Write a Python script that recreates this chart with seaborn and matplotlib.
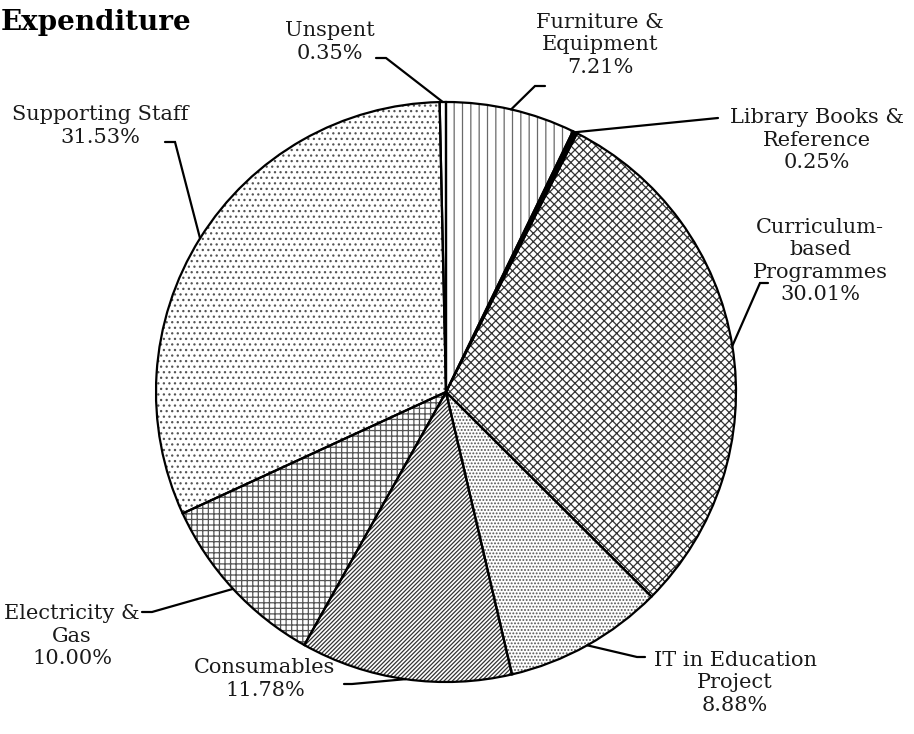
"""
Expenditure pie chart (black & white, hatched slices)
"""

import numpy as np
import matplotlib
matplotlib.use("Agg")
import matplotlib.pyplot as plt
import seaborn as sns

categories = [
    "Furniture &\nEquipment",
    "Library Books &\nReference",
    "Curriculum-\nbased\nProgrammes",
    "IT in Education\nProject",
    "Consumables",
    "Electricity &\nGas",
    "Supporting Staff",
    "Unspent",
]
shares = [7.21, 0.25, 30.01, 8.88, 11.78, 10.00, 31.53, 0.35]
share_labels = ["7.21%", "0.25%", "30.01%", "8.88%", "11.78%", "10.00%", "31.53%", "0.35%"]
hatches = ["||", "", "xxxx", ".....", "////////", "+++", "...", ""]
fills = ["white", "black", "white", "white", "white", "white", "white", "white"]
hatch_colors = ["#6a6a6a", "black", "#333333", "#555555", "#333333", "#555555", "#555555", "black"]

# label layout in image pixels: text centre, elbow of leader, end of stub
label_pos = [(600, 45), (817, 140), (820, 261), (735, 683), (265, 679), (72, 636), (100, 126), (330, 42)]
elbow_pos = [(535, 86), (718, 118), (760, 283), (637, 657), (352, 684), (152, 612), (175, 142), (386, 58)]
stub_end = [(545, 86), (718, 118), (768, 283), (645, 657), (344, 684), (142, 612), (165, 142), (376, 58)]

sns.set_theme(style="white")
plt.rcParams["font.family"] = ["DejaVu Serif"]
plt.rcParams["hatch.linewidth"] = 0.9

W, H = 914, 734
fig = plt.figure(figsize=(W / 100, H / 100), dpi=100)
ax = fig.add_axes([0, 0, 1, 1])

cx, cy, r = 446, H - 392, 290
# hatched fill (hatch takes the edge colour), then crisp black outlines on top
wedges, _ = ax.pie(
    shares, startangle=90, counterclock=False, center=(cx, cy), radius=r,
    colors=fills, frame=True,
    wedgeprops=dict(linewidth=0),
)
for w, h, hc in zip(wedges, hatches, hatch_colors):
    w.set_edgecolor(hc)
    w.set_hatch(h)
    w.set_linewidth(0)
outline, _ = ax.pie(
    shares, startangle=90, counterclock=False, center=(cx, cy), radius=r,
    colors=["none"] * len(shares), frame=True,
    wedgeprops=dict(edgecolor="black", linewidth=1.6, fill=False),
)
ax.set_xlim(0, W)
ax.set_ylim(0, H)
ax.set_aspect("equal")
ax.axis("off")

for w, name, pct, (tx, ty), (ex, ey), (sx, sy) in zip(
        wedges, categories, share_labels, label_pos, elbow_pos, stub_end):
    mid = np.deg2rad((w.theta1 + w.theta2) / 2)
    px, py = cx + r * np.cos(mid), cy + r * np.sin(mid)
    ax.plot([px, ex, sx], [py, H - ey, H - sy], color="black", lw=1.6,
            solid_joinstyle="miter")
    ax.text(tx, H - ty, f"{name}\n{pct}", ha="center", va="center",
            fontsize=15, linespacing=1.22, color="#1a1a1a")

ax.text(1, H - 22, "Expenditure", ha="left", va="center",
        fontsize=20, fontweight="bold", color="black")

plt.savefig("out.png", dpi=100)
plt.close()
